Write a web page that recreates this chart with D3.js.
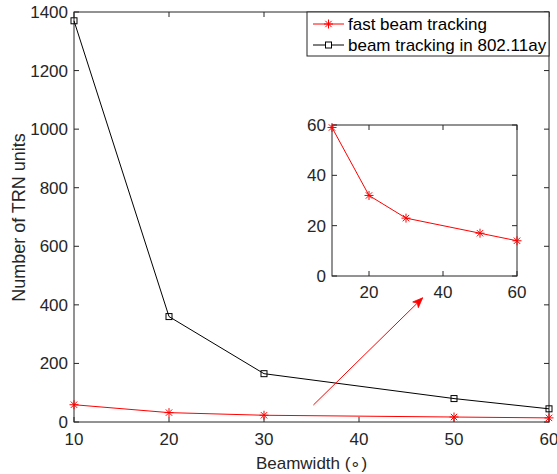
<!DOCTYPE html>
<html><head><meta charset="utf-8">
<script src="https://cdn.jsdelivr.net/npm/d3@7"></script>
<style>body{margin:0;background:#fff;} text{font-family:"Liberation Sans",Arial,sans-serif;fill:#262626;}</style>
</head><body>
<svg id="c" width="557" height="474"></svg>
<script>
const beamwidths = [10, 20, 30, 50, 60];
const fastTracking = [59, 32, 23, 17, 14];
const ayTracking = [1370, 360, 165, 80, 45];
const seriesNames = ["fast beam tracking", "beam tracking in 802.11ay"];
const xTicks = [10, 20, 30, 40, 50, 60];
const yTicks = [0, 200, 400, 600, 800, 1000, 1200, 1400];
const insetXTicks = [20, 40, 60];
const insetYTicks = [0, 20, 40, 60];
const arrowFrom = [35.2, 58];
const arrowTo = [46.7, 424];

const svg = d3.select("#c");
const axisColor = "#262626";
const x = d3.scaleLinear().domain([10, 60]).range([74, 549]);
const y = d3.scaleLinear().domain([0, 1400]).range([422, 12]);

function boxAxes(g, xs, ys, xt, yt, fs, xlabPad, ylabPad) {
  const [x0, x1] = xs.range(), [y0, y1] = ys.range();
  const tl = 5;
  g.append("rect").attr("x", x0).attr("y", y1).attr("width", x1 - x0).attr("height", y0 - y1)
    .attr("fill", "none").attr("stroke", axisColor).attr("stroke-width", 1);
  xt.forEach(t => {
    const px = xs(t);
    g.append("line").attr("x1", px).attr("x2", px).attr("y1", y0).attr("y2", y0 - tl).attr("stroke", axisColor);
    g.append("line").attr("x1", px).attr("x2", px).attr("y1", y1).attr("y2", y1 + tl).attr("stroke", axisColor);
    g.append("text").attr("x", px).attr("y", y0 + xlabPad).attr("text-anchor", "middle")
      .attr("font-size", fs).text(t);
  });
  yt.forEach(t => {
    const py = ys(t);
    g.append("line").attr("x1", x0).attr("x2", x0 + tl).attr("y1", py).attr("y2", py).attr("stroke", axisColor);
    g.append("line").attr("x1", x1).attr("x2", x1 - tl).attr("y1", py).attr("y2", py).attr("stroke", axisColor);
    g.append("text").attr("x", x0 - ylabPad).attr("y", py).attr("dy", "0.35em").attr("text-anchor", "end")
      .attr("font-size", fs).text(t);
  });
}

function asterisk(g, cx, cy, r, color) {
  const p = d3.path();
  for (let k = 0; k < 4; k++) {
    const a = k * Math.PI / 4;
    p.moveTo(cx - r * Math.cos(a), cy - r * Math.sin(a));
    p.lineTo(cx + r * Math.cos(a), cy + r * Math.sin(a));
  }
  g.append("path").attr("d", p.toString()).attr("stroke", color).attr("stroke-width", 1).attr("fill", "none");
}

const main = svg.append("g");
boxAxes(main, x, y, xTicks, yTicks, 17, 22.5, 6);

const line = (xs, ys) => d3.line().x((d, i) => xs(beamwidths[i])).y(d => ys(d));

// black series
main.append("path").datum(ayTracking).attr("d", line(x, y)).attr("fill", "none").attr("stroke", "#000").attr("stroke-width", 1);
ayTracking.forEach((v, i) => {
  main.append("rect").attr("x", x(beamwidths[i]) - 3).attr("y", y(v) - 3).attr("width", 6).attr("height", 6)
    .attr("fill", "none").attr("stroke", "#000").attr("stroke-width", 1);
});
// red series
main.append("path").datum(fastTracking).attr("d", line(x, y)).attr("fill", "none").attr("stroke", "#ff0000").attr("stroke-width", 1);
fastTracking.forEach((v, i) => asterisk(main, x(beamwidths[i]), y(v), 4.5, "#ff0000"));

// axis labels
main.append("text").attr("x", (74 + 549) / 2).attr("y", 469).attr("text-anchor", "middle").attr("font-size", 17)
  .text("Beamwidth (∘)");
main.append("text").attr("transform", "translate(25," + (217.5) + ") rotate(-90)").attr("text-anchor", "middle")
  .attr("font-size", 18).text("Number of TRN units");

// arrow
const ax0 = x(arrowFrom[0]), ay0 = y(arrowFrom[1]), ax1 = x(arrowTo[0]), ay1 = y(arrowTo[1]);
main.append("line").attr("x1", ax0).attr("y1", ay0).attr("x2", ax1).attr("y2", ay1).attr("stroke", "#ff0000").attr("stroke-width", 1);
{
  const ang = Math.atan2(ay1 - ay0, ax1 - ax0), L = 10, W = 4;
  const bx = ax1 - L * Math.cos(ang), by = ay1 - L * Math.sin(ang);
  const px = -Math.sin(ang) * W, py = Math.cos(ang) * W;
  const mx = ax1 - 0.75 * L * Math.cos(ang), my = ay1 - 0.75 * L * Math.sin(ang);
  main.append("path").attr("d", `M${ax1},${ay1}L${bx + px},${by + py}L${mx},${my}L${bx - px},${by - py}Z`)
    .attr("fill", "#ff0000").attr("stroke", "#ff0000").attr("stroke-width", 0.8);
}

// inset
const xi = d3.scaleLinear().domain([10, 60]).range([332, 517]);
const yi = d3.scaleLinear().domain([0, 60]).range([276, 125]);
const inset = svg.append("g");
inset.append("rect").attr("x", 332).attr("y", 125).attr("width", 185).attr("height", 151).attr("fill", "#fff");
boxAxes(inset, xi, yi, insetXTicks, insetYTicks, 17, 21.5, 6);
inset.append("path").datum(fastTracking).attr("d", line(xi, yi)).attr("fill", "none").attr("stroke", "#ff0000").attr("stroke-width", 1);
fastTracking.forEach((v, i) => asterisk(inset, xi(beamwidths[i]), yi(v), 4.5, "#ff0000"));

// legend
const lg = svg.append("g");
lg.append("rect").attr("x", 307).attr("y", 12).attr("width", 242).attr("height", 44)
  .attr("fill", "#fff").attr("stroke", axisColor).attr("stroke-width", 1);
const rows = [{c: "#ff0000", m: "ast"}, {c: "#000", m: "sq"}];
rows.forEach((r, i) => {
  const cy = 24 + i * 21;
  lg.append("line").attr("x1", 313).attr("x2", 344).attr("y1", cy).attr("y2", cy).attr("stroke", r.c).attr("stroke-width", 1);
  if (r.m === "ast") asterisk(lg, 328.5, cy, 4.5, r.c);
  else lg.append("rect").attr("x", 325.5).attr("y", cy - 3).attr("width", 6).attr("height", 6).attr("fill", "#fff").attr("stroke", r.c);
  lg.append("text").attr("x", 348).attr("y", cy).attr("dy", "0.35em").attr("font-size", 17)
    .style("fill", "#000").text(seriesNames[i]);
});
</script>
</body></html>
